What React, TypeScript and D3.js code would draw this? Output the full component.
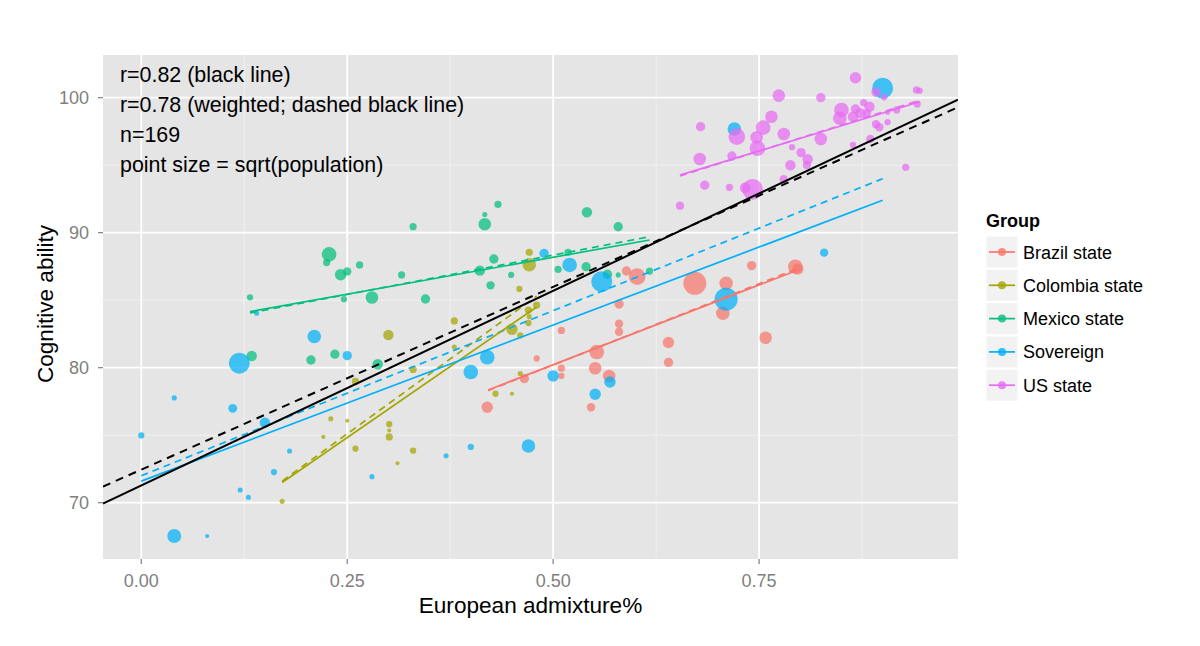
import { useRef, useEffect } from 'react'
import * as d3 from 'd3'

// [European admixture, cognitive ability, sqrt(population) weight]
type Pt = [number, number, number]
// [x0, y0, x1, y1] in data units
type Seg = [number, number, number, number]

const groups = ['Brazil state', 'Colombia state', 'Mexico state', 'Sovereign', 'US state']
const groupColors = ['#F8766D', '#A3A500', '#00BF7D', '#00B0F6', '#E76BF3']

const brazilPoints: Pt[] = [
  [0.420, 77.07, 30], [0.465, 79.19, 20], [0.480, 80.68, 9], [0.510, 82.76, 12],
  [0.510, 79.96, 12], [0.510, 79.39, 9], [0.546, 77.07, 16], [0.551, 79.96, 36],
  [0.553, 81.16, 49], [0.568, 79.39, 36], [0.580, 84.72, 20], [0.580, 83.26, 16],
  [0.580, 82.66, 16], [0.589, 87.16, 20], [0.602, 86.74, 64], [0.640, 81.87, 30],
  [0.640, 80.39, 20], [0.672, 86.25, 121], [0.706, 84.03, 42], [0.710, 86.25, 42],
  [0.741, 87.56, 20], [0.758, 82.22, 36], [0.794, 87.48, 49], [0.797, 87.31, 30],
]

const colombiaPoints: Pt[] = [
  [0.171, 70.10, 6], [0.221, 74.87, 4], [0.230, 76.22, 6], [0.250, 76.07, 4],
  [0.260, 78.98, 12], [0.260, 74.00, 9], [0.300, 82.42, 25], [0.301, 75.81, 9],
  [0.301, 75.35, 4], [0.301, 74.87, 12], [0.311, 72.92, 4], [0.330, 79.87, 12],
  [0.330, 73.85, 9], [0.380, 83.46, 12], [0.380, 81.53, 6], [0.430, 78.07, 9],
  [0.450, 78.07, 4], [0.450, 82.84, 30], [0.459, 85.83, 9], [0.460, 82.39, 9],
  [0.460, 79.57, 6], [0.471, 88.55, 12], [0.471, 87.63, 42], [0.470, 84.27, 12],
  [0.470, 83.31, 9], [0.480, 84.64, 12], [0.471, 83.78, 6],
]

const mexicoPoints: Pt[] = [
  [0.132, 85.21, 9], [0.134, 80.87, 25], [0.206, 80.57, 20], [0.225, 87.79, 12],
  [0.228, 88.39, 49], [0.235, 81.00, 20], [0.242, 86.89, 30], [0.246, 85.07, 9],
  [0.250, 87.13, 16], [0.265, 87.61, 12], [0.280, 85.20, 36], [0.287, 80.25, 25],
  [0.316, 86.87, 12], [0.330, 90.44, 12], [0.345, 85.09, 20], [0.411, 87.19, 25],
  [0.417, 91.35, 6], [0.417, 90.63, 36], [0.424, 86.10, 16], [0.428, 88.05, 20],
  [0.433, 92.10, 12], [0.449, 86.87, 9], [0.506, 87.29, 12], [0.518, 88.55, 12],
  [0.540, 87.48, 20], [0.541, 91.51, 25], [0.566, 86.92, 20], [0.579, 90.44, 20],
  [0.579, 86.87, 6], [0.617, 87.16, 12],
]

const sovereignPoints: Pt[] = [
  [0.000, 74.98, 9], [0.040, 77.76, 6], [0.111, 76.99, 18], [0.119, 80.33, 100],
  [0.150, 75.93, 25], [0.180, 73.83, 6], [0.161, 72.27, 9], [0.120, 70.94, 6],
  [0.130, 70.40, 6], [0.040, 67.53, 45], [0.080, 67.53, 4], [0.280, 71.93, 6],
  [0.140, 84.03, 6], [0.210, 82.31, 42], [0.250, 80.89, 20], [0.420, 80.77, 49],
  [0.400, 79.68, 49], [0.489, 88.47, 20], [0.520, 87.61, 49], [0.559, 86.37, 100],
  [0.500, 79.39, 30], [0.551, 78.03, 30], [0.569, 78.94, 30], [0.470, 74.20, 42],
  [0.400, 74.13, 9], [0.370, 73.48, 6], [0.900, 100.70, 100], [0.720, 97.68, 42],
  [0.829, 88.52, 16], [0.710, 85.07, 121],
]

const usPoints: Pt[] = [
  [0.654, 92.00, 16], [0.678, 95.46, 36], [0.679, 97.85, 20], [0.684, 93.51, 20],
  [0.714, 93.36, 12], [0.717, 95.68, 20], [0.723, 97.11, 64], [0.733, 93.33, 25],
  [0.742, 93.21, 100], [0.747, 97.07, 36], [0.748, 96.25, 56], [0.755, 97.78, 49],
  [0.765, 98.59, 36], [0.774, 100.15, 36], [0.780, 93.96, 16], [0.780, 97.31, 36],
  [0.788, 94.99, 25], [0.790, 96.33, 9], [0.801, 95.93, 20], [0.808, 95.01, 16],
  [0.809, 95.44, 25], [0.825, 100.00, 20], [0.825, 96.94, 36], [0.848, 98.47, 42],
  [0.850, 99.09, 49], [0.864, 98.59, 25], [0.864, 96.50, 9], [0.867, 101.48, 30],
  [0.867, 99.16, 20], [0.873, 98.84, 25], [0.877, 99.63, 12], [0.881, 98.84, 16],
  [0.884, 99.33, 25], [0.885, 96.94, 16], [0.892, 100.40, 20], [0.892, 98.03, 16],
  [0.896, 97.81, 16], [0.902, 100.03, 9], [0.906, 98.92, 6], [0.906, 98.18, 9],
  [0.917, 99.09, 12], [0.928, 94.84, 12], [0.941, 100.57, 12], [0.945, 100.52, 9],
  [0.942, 99.53, 12],
]

const groupPoints = [brazilPoints, colombiaPoints, mexicoPoints, sovereignPoints, usPoints]

// per-group linear fits, unweighted (solid) and weighted (dashed)
const groupFitsSolid: Seg[] = [
  [0.421, 78.35, 0.797, 87.24],
  [0.171, 71.5, 0.48, 84.5],
  [0.132, 84.15, 0.617, 89.46],
  [0.0, 71.6, 0.9, 92.4],
  [0.654, 94.26, 0.945, 99.7],
]
const groupFitsDashed: Seg[] = [
  [0.421, 78.3, 0.797, 87.35],
  [0.171, 71.6, 0.48, 85.3],
  [0.132, 84.05, 0.617, 89.7],
  [0.0, 72.0, 0.9, 94.0],
  [0.654, 94.2, 0.945, 99.8],
]
const overallFit: Seg = [-0.0465, 69.94, 0.9915, 99.86]
const overallFitWeighted: Seg = [-0.0465, 71.19, 0.9915, 99.29]

const xTicks = [0, 0.25, 0.5, 0.75]
const xMinor = [0.125, 0.375, 0.625, 0.875]
const yTicks = [70, 80, 90, 100]
const yMinor = [75, 85, 95]

const notes = [
  'r=0.82 (black line)',
  'r=0.78 (weighted; dashed black line)',
  'n=169',
  'point size = sqrt(population)',
]

const FONT = 'Liberation Sans, Arial, sans-serif'

const App = () => {
  const svgRef = useRef<SVGSVGElement>(null)

  useEffect(() => {
    if (!svgRef.current) return
    const svg = d3.select(svgRef.current)
    svg.selectAll('*').remove()

    const left = 103, right = 958, top = 55, bottom = 559

    const x = d3.scaleLinear().domain([-0.0465, 0.9915]).range([left, right])
    const y = d3.scaleLinear().domain([65.83, 103.16]).range([bottom, top])
    const r = d3.scaleSqrt().domain([0, 121]).range([0, 11.5])

    svg.append('rect')
      .attr('x', left).attr('y', top)
      .attr('width', right - left).attr('height', bottom - top)
      .attr('fill', '#E5E5E5')

    const grid = svg.append('g')
    grid.selectAll('.xminor').data(xMinor).enter().append('line')
      .attr('x1', d => x(d)).attr('x2', d => x(d)).attr('y1', top).attr('y2', bottom)
      .attr('stroke', '#F2F2F2').attr('stroke-width', 0.9)
    grid.selectAll('.yminor').data(yMinor).enter().append('line')
      .attr('y1', d => y(d)).attr('y2', d => y(d)).attr('x1', left).attr('x2', right)
      .attr('stroke', '#F2F2F2').attr('stroke-width', 0.9)
    grid.selectAll('.xmajor').data(xTicks).enter().append('line')
      .attr('x1', d => x(d)).attr('x2', d => x(d)).attr('y1', top).attr('y2', bottom)
      .attr('stroke', '#FFFFFF').attr('stroke-width', 1.8)
    grid.selectAll('.ymajor').data(yTicks).enter().append('line')
      .attr('y1', d => y(d)).attr('y2', d => y(d)).attr('x1', left).attr('x2', right)
      .attr('stroke', '#FFFFFF').attr('stroke-width', 1.8)

    // points
    const pts = svg.append('g')
    groupPoints.forEach((data, gi) => {
      pts.selectAll(`.p${gi}`).data(data).enter().append('circle')
        .attr('cx', d => x(d[0]))
        .attr('cy', d => y(d[1]))
        .attr('r', d => r(d[2]))
        .attr('fill', groupColors[gi])
        .attr('fill-opacity', 0.72)
    })

    const clip = svg.append('clipPath').attr('id', 'panel')
    clip.append('rect').attr('x', left).attr('y', top)
      .attr('width', right - left).attr('height', bottom - top)

    const lines = svg.append('g').attr('clip-path', 'url(#panel)')
    const seg = (s: Seg, color: string, width: number, dash?: string) => {
      const ln = lines.append('line')
        .attr('x1', x(s[0])).attr('y1', y(s[1]))
        .attr('x2', x(s[2])).attr('y2', y(s[3]))
        .attr('stroke', color).attr('stroke-width', width)
      if (dash) ln.attr('stroke-dasharray', dash)
    }
    groupFitsDashed.forEach((s, i) => seg(s, groupColors[i], 1.7, '7,5'))
    groupFitsSolid.forEach((s, i) => seg(s, groupColors[i], 1.7))
    seg(overallFitWeighted, '#000000', 2, '8,6')
    seg(overallFit, '#000000', 2)

    // notes
    svg.append('g').selectAll('text').data(notes).enter().append('text')
      .attr('x', 120)
      .attr('y', (_, i) => 82 + i * 30)
      .attr('font-family', FONT).attr('font-size', 21.4)
      .attr('fill', '#000000')
      .text(d => d)

    // axes
    const ax = svg.append('g')
    ax.selectAll('.xt').data(xTicks).enter().append('line')
      .attr('x1', d => x(d)).attr('x2', d => x(d)).attr('y1', bottom).attr('y2', bottom + 5)
      .attr('stroke', '#7F7F7F').attr('stroke-width', 1.2)
    ax.selectAll('.xl').data(xTicks).enter().append('text')
      .attr('x', d => x(d)).attr('y', 587)
      .attr('text-anchor', 'middle')
      .attr('font-family', FONT).attr('font-size', 18)
      .attr('fill', '#7F7F7F')
      .text(d => d3.format('.2f')(d))
    ax.selectAll('.yt').data(yTicks).enter().append('line')
      .attr('y1', d => y(d)).attr('y2', d => y(d)).attr('x1', left - 5).attr('x2', left)
      .attr('stroke', '#7F7F7F').attr('stroke-width', 1.2)
    ax.selectAll('.yl').data(yTicks).enter().append('text')
      .attr('x', 89).attr('y', d => y(d) + 6.3)
      .attr('text-anchor', 'end')
      .attr('font-family', FONT).attr('font-size', 18)
      .attr('fill', '#7F7F7F')
      .text(d => String(d))

    svg.append('text')
      .attr('x', (left + right) / 2).attr('y', 613)
      .attr('text-anchor', 'middle')
      .attr('font-family', FONT).attr('font-size', 22.6)
      .attr('fill', '#000000')
      .text('European admixture%')
    svg.append('text')
      .attr('transform', `translate(53, ${(top + bottom) / 2 - 3}) rotate(-90)`)
      .attr('text-anchor', 'middle')
      .attr('font-family', FONT).attr('font-size', 22.6)
      .attr('fill', '#000000')
      .text('Cognitive ability')

    // legend
    const lg = svg.append('g').attr('transform', 'translate(986, 0)')
    lg.append('text')
      .attr('x', 0).attr('y', 227)
      .attr('font-family', FONT).attr('font-size', 18).attr('font-weight', 'bold')
      .attr('fill', '#000000')
      .text('Group')
    groups.forEach((name, i) => {
      const cy = 252 + i * 33.3
      lg.append('rect')
        .attr('x', 0.5).attr('y', cy - 15.5)
        .attr('width', 31).attr('height', 31)
        .attr('fill', '#F2F2F2')
      lg.append('line')
        .attr('x1', 3).attr('x2', 29).attr('y1', cy).attr('y2', cy)
        .attr('stroke', groupColors[i]).attr('stroke-width', 1.7)
      lg.append('circle')
        .attr('cx', 16).attr('cy', cy).attr('r', 4)
        .attr('fill', groupColors[i]).attr('fill-opacity', 0.8)
      lg.append('text')
        .attr('x', 37).attr('y', cy + 6.5)
        .attr('font-family', FONT).attr('font-size', 18)
        .attr('fill', '#000000')
        .text(name)
    })
  }, [])

  return (
    <svg
      ref={svgRef}
      width={1200}
      height={646}
      style={{ position: 'absolute', left: 0, top: 0, background: '#FFFFFF' }}
    />
  )
}

export default App
